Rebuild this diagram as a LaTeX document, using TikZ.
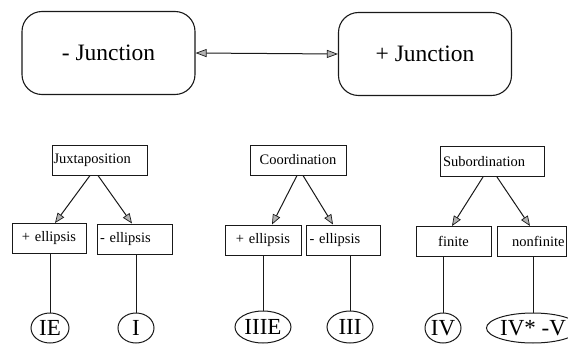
\documentclass[tikz,border=0pt]{standalone}
\usepackage{fontspec}
\setmainfont{Liberation Serif}
\usetikzlibrary{arrows.meta,shapes.geometric}
\begin{document}
\begin{tikzpicture}[x=1pt,y=-1pt,
  bigbox/.style={draw=black!90, line width=1.1pt, rounded corners=20pt, minimum width=173pt, minimum height=83pt, inner sep=0pt, font=\fontsize{23.5}{26}\selectfont},
  catbox/.style={draw=black!90, line width=1pt, minimum height=30pt, inner ysep=0pt, inner xsep=1.5pt, font=\fontsize{14.5}{16}\selectfont},
  leaf/.style={draw=black!90, line width=1pt, ellipse, inner sep=0pt, font=\fontsize{23}{25}\selectfont},
  tri/.style={-{Triangle[fill=gray!60, length=10pt, width=8pt, line width=0.7pt]}, line width=1pt, draw=black!90},
  dtri/.style={{Triangle[fill=gray!60, length=11pt, width=8pt, line width=0.7pt]}-{Triangle[fill=gray!60, length=11pt, width=8pt, line width=0.7pt]}, line width=1pt, draw=black!90},
  stem/.style={line width=1pt, draw=black!90}]
\useasboundingbox (0,0) rectangle (568,345);
% top
\node[bigbox] (mj) at (108.5,53) {- Junction};
\node[bigbox] (pj) at (425,54) {+ Junction};
\draw[dtri] (mj.east) -- (pj.west);
% categories
\node[catbox, text width=92pt, align=left] (jux) at (99.5,160) {Juxtaposition};
\node[catbox, text width=93pt, align=center] (coo) at (298,160) {Coordination\hspace{8pt}};
\node[catbox, text width=101pt, align=left] (sub) at (492,161.5) {\hspace{1.5pt}Subordination};
% subcategories
\node[catbox, text width=71pt, align=center] (jp) at (49,238.5) {+ ellipsis};
\node[catbox, text width=72pt, align=left] (jm) at (134.5,239) {\hspace{1.5pt}- ellipsis};
\node[catbox, text width=73pt, align=center] (cp) at (263,240) {+ ellipsis};
\node[catbox, text width=71pt, align=left] (cm) at (343,240) {\hspace{2pt}- ellipsis};
\node[catbox, text width=72pt, align=center] (fin) at (453.5,241.5) {finite};
\node[catbox, text width=66pt, align=right] (nfin) at (531.5,241.5) {nonfinite};
% leaves
\node[leaf, minimum width=38pt, minimum height=30pt] (ie) at (50,328) {IE};
\node[leaf, minimum width=36pt, minimum height=30pt] (i) at (136,328) {I};
\node[leaf, minimum width=56pt, minimum height=32pt] (iiie) at (263,327) {IIIE};
\node[leaf, minimum width=46pt, minimum height=32pt] (iii) at (350,327) {III};
\node[leaf, minimum width=36pt, minimum height=30pt] (iv) at (443,328) {IV};
\node[leaf, minimum width=74pt, minimum height=30pt] (ivv) at (533,328) {IV* -V};
% arrows
\draw[tri] ([xshift=-9.5pt]jux.south) -- ([xshift=6pt]jp.north);
\draw[tri] ([xshift=-1.5pt]jux.south) -- ([xshift=-2.5pt]jm.north);
\draw[tri] ([xshift=-1pt]coo.south) -- ([xshift=9pt]cp.north);
\draw[tri] ([xshift=5pt]coo.south) -- ([xshift=-10pt]cm.north);
\draw[tri] ([xshift=-9pt]sub.south) -- ([xshift=-1.5pt]fin.north);
\draw[tri] ([xshift=5pt]sub.south) -- ([xshift=-1.5pt]nfin.north);
% stems
\draw[stem] (ie.north |- jp.south) -- (ie.north);
\draw[stem] (i.north |- jm.south) -- (i.north);
\draw[stem] (iiie.north |- cp.south) -- (iiie.north);
\draw[stem] (iii.north |- cm.south) -- (iii.north);
\draw[stem] (iv.north |- fin.south) -- (iv.north);
\draw[stem] (ivv.north |- nfin.south) -- (ivv.north);
\end{tikzpicture}
\end{document}
